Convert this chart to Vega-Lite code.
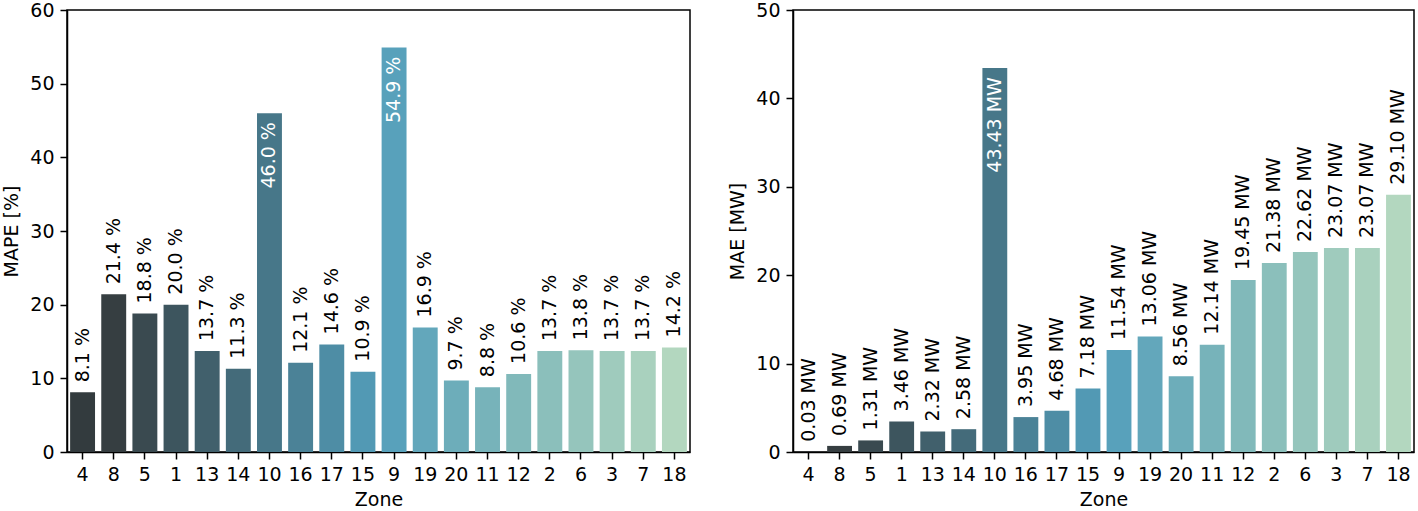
{
  "$schema": "https://vega.github.io/schema/vega-lite/v6.json",
  "padding": {"left": 2, "top": 0, "right": 2, "bottom": 1},
  "background": "white",
  "datasets": {
    "zones": [
      {"zone": "4", "mape": 8.1, "mape_label": "8.1 %", "mae": 0.03, "mae_label": "0.03 MW"},
      {"zone": "8", "mape": 21.4, "mape_label": "21.4 %", "mae": 0.69, "mae_label": "0.69 MW"},
      {"zone": "5", "mape": 18.8, "mape_label": "18.8 %", "mae": 1.31, "mae_label": "1.31 MW"},
      {"zone": "1", "mape": 20.0, "mape_label": "20.0 %", "mae": 3.46, "mae_label": "3.46 MW"},
      {"zone": "13", "mape": 13.7, "mape_label": "13.7 %", "mae": 2.32, "mae_label": "2.32 MW"},
      {"zone": "14", "mape": 11.3, "mape_label": "11.3 %", "mae": 2.58, "mae_label": "2.58 MW"},
      {"zone": "10", "mape": 46.0, "mape_label": "46.0 %", "mae": 43.43, "mae_label": "43.43 MW"},
      {"zone": "16", "mape": 12.1, "mape_label": "12.1 %", "mae": 3.95, "mae_label": "3.95 MW"},
      {"zone": "17", "mape": 14.6, "mape_label": "14.6 %", "mae": 4.68, "mae_label": "4.68 MW"},
      {"zone": "15", "mape": 10.9, "mape_label": "10.9 %", "mae": 7.18, "mae_label": "7.18 MW"},
      {"zone": "9", "mape": 54.9, "mape_label": "54.9 %", "mae": 11.54, "mae_label": "11.54 MW"},
      {"zone": "19", "mape": 16.9, "mape_label": "16.9 %", "mae": 13.06, "mae_label": "13.06 MW"},
      {"zone": "20", "mape": 9.7, "mape_label": "9.7 %", "mae": 8.56, "mae_label": "8.56 MW"},
      {"zone": "11", "mape": 8.8, "mape_label": "8.8 %", "mae": 12.14, "mae_label": "12.14 MW"},
      {"zone": "12", "mape": 10.6, "mape_label": "10.6 %", "mae": 19.45, "mae_label": "19.45 MW"},
      {"zone": "2", "mape": 13.7, "mape_label": "13.7 %", "mae": 21.38, "mae_label": "21.38 MW"},
      {"zone": "6", "mape": 13.8, "mape_label": "13.8 %", "mae": 22.62, "mae_label": "22.62 MW"},
      {"zone": "3", "mape": 13.7, "mape_label": "13.7 %", "mae": 23.07, "mae_label": "23.07 MW"},
      {"zone": "7", "mape": 13.7, "mape_label": "13.7 %", "mae": 23.07, "mae_label": "23.07 MW"},
      {"zone": "18", "mape": 14.2, "mape_label": "14.2 %", "mae": 29.10, "mae_label": "29.10 MW"}
    ]
  },
  "config": {
    "font": "DejaVu Sans",
    "view": {"stroke": "black", "strokeWidth": 1.5},
    "axis": {
      "domainColor": "black", "domainWidth": 1.5,
      "tickColor": "black", "tickWidth": 1.5, "tickSize": 7,
      "labelFontSize": 19, "titleFontSize": 19,
      "labelColor": "black", "titleColor": "black",
      "titleFontWeight": "normal", "grid": false, "labelPadding": 6
    }
  },
  "bounds": "flush",
  "spacing": 103,
  "hconcat": [
    {
      "width": 623,
      "height": 442,
      "data": {"name": "zones"},
      "encoding": {
        "x": {"field": "zone", "type": "nominal", "sort": null,
              "scale": {"paddingInner": 0.2, "paddingOuter": 0.1},
              "axis": {"labelAngle": 0, "title": "Zone", "titlePadding": 6}},
        "y": {"field": "mape", "type": "quantitative",
              "scale": {"domain": [0, 60], "nice": false},
              "axis": {"title": "MAPE [%]", "values": [0, 10, 20, 30, 40, 50, 60], "titlePadding": 8}}
      },
      "layer": [
        {
          "mark": {"type": "bar"},
          "encoding": {
            "color": {"field": "zone", "type": "nominal", "sort": null, "legend": null,
              "scale": {
                "domain": ["4","8","5","1","13","14","10","16","17","15","9","19","20","11","12","2","6","3","7","18"],
                "range": ["#333b3e","#363e41","#3a4a50","#3d555e","#41606c","#446b7a","#477789","#4b8297","#4e8da5","#5299b4","#58a1bb","#63a7bb","#6dadba","#77b3ba","#81b9ba","#8bbfbb","#95c5bc","#9fcbbd","#a9d1be","#b3d7bf"]
              }}
          }
        },
        {
          "transform": [{"filter": "datum.mape <= 40"}],
          "mark": {"type": "text", "angle": 270, "align": "left", "baseline": "middle", "dx": 10, "fontSize": 19, "color": "black"},
          "encoding": {"text": {"field": "mape_label"}}
        },
        {
          "transform": [{"filter": "datum.mape > 40"}],
          "mark": {"type": "text", "angle": 270, "align": "right", "baseline": "middle", "dx": -9, "fontSize": 19, "color": "white"},
          "encoding": {"text": {"field": "mape_label"}}
        }
      ]
    },
    {
      "width": 621,
      "height": 442,
      "data": {"name": "zones"},
      "encoding": {
        "x": {"field": "zone", "type": "nominal", "sort": null,
              "scale": {"paddingInner": 0.2, "paddingOuter": 0.1},
              "axis": {"labelAngle": 0, "title": "Zone", "titlePadding": 6}},
        "y": {"field": "mae", "type": "quantitative",
              "scale": {"domain": [0, 50], "nice": false},
              "axis": {"title": "MAE [MW]", "values": [0, 10, 20, 30, 40, 50], "titlePadding": 8}}
      },
      "layer": [
        {
          "mark": {"type": "bar"},
          "encoding": {
            "color": {"field": "zone", "type": "nominal", "sort": null, "legend": null,
              "scale": {
                "domain": ["4","8","5","1","13","14","10","16","17","15","9","19","20","11","12","2","6","3","7","18"],
                "range": ["#333b3e","#363e41","#3a4a50","#3d555e","#41606c","#446b7a","#477789","#4b8297","#4e8da5","#5299b4","#58a1bb","#63a7bb","#6dadba","#77b3ba","#81b9ba","#8bbfbb","#95c5bc","#9fcbbd","#a9d1be","#b3d7bf"]
              }}
          }
        },
        {
          "transform": [{"filter": "datum.mae <= 40"}],
          "mark": {"type": "text", "angle": 270, "align": "left", "baseline": "middle", "dx": 10, "fontSize": 19, "color": "black"},
          "encoding": {"text": {"field": "mae_label"}}
        },
        {
          "transform": [{"filter": "datum.mae > 40"}],
          "mark": {"type": "text", "angle": 270, "align": "right", "baseline": "middle", "dx": -9, "fontSize": 19, "color": "white"},
          "encoding": {"text": {"field": "mae_label"}}
        }
      ]
    }
  ]
}
